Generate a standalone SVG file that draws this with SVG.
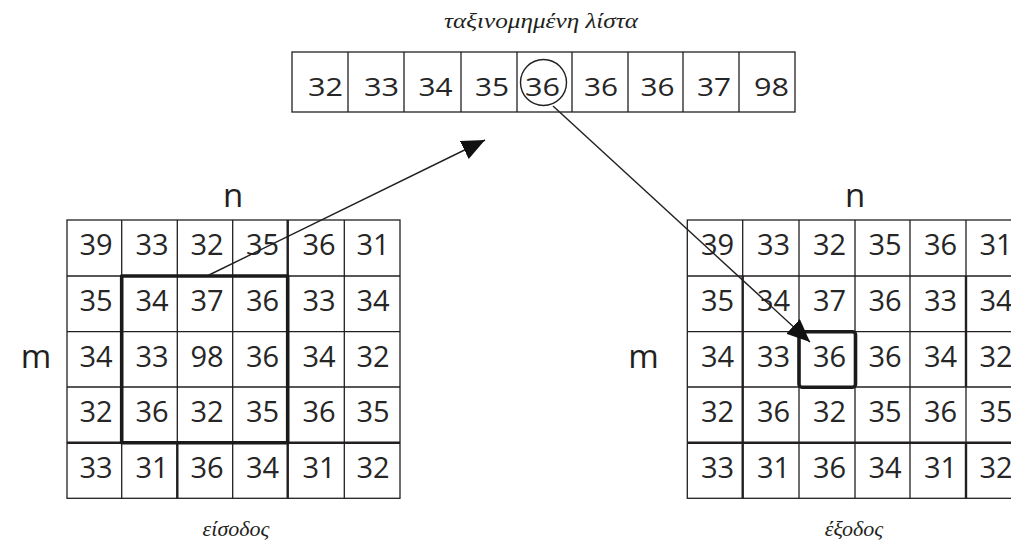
<svg xmlns="http://www.w3.org/2000/svg" width="1011" height="543" viewBox="0 0 1011 543">
<defs>
<style>
.cap{font-family:"Liberation Serif",serif;font-style:italic;font-size:22px;fill:#231f20;text-anchor:middle}
.lst{font-family:"Open Sans","DejaVu Sans",sans-serif;font-size:25px;fill:#262626;text-anchor:middle}
.gd{font-family:"Open Sans","DejaVu Sans",sans-serif;font-size:29px;fill:#262626;text-anchor:middle}
.lbl{font-family:"Open Sans","DejaVu Sans",sans-serif;font-size:33px;fill:#231f20;text-anchor:middle}
.thin{fill:none;stroke:#231f20;stroke-width:1.3}
.mid{fill:none;stroke:#231f20;stroke-width:2.4}
.bold{fill:none;stroke:#1a1a1a;stroke-width:3.6;stroke-linejoin:round}
.conn{fill:none;stroke:#231f20;stroke-width:1.4}
</style>
<marker id="ah" markerUnits="userSpaceOnUse" markerWidth="26" markerHeight="22" refX="23" refY="10" orient="auto" viewBox="0 0 26 22">
<path d="M0,0 L23,10 L0,20 z" fill="#111"/>
</marker>
</defs>
<rect width="1011" height="543" fill="#fff"/>

<g id="title">
<text class="cap" x="541" y="28" textLength="194" lengthAdjust="spacingAndGlyphs">ταξινομημένη λίστα</text>
</g>

<g id="sorted-list">
<rect class="thin" x="292" y="52" width="503" height="60"/>
<path class="thin" d="M348,52V112M404,52V112M461,52V112M517,52V112M572,52V112M628,52V112M683,52V112M739,52V112"/>
<text class="lst" y="96" x="325.5" textLength="35" lengthAdjust="spacingAndGlyphs">32</text>
<text class="lst" y="96" x="381.5" textLength="35" lengthAdjust="spacingAndGlyphs">33</text>
<text class="lst" y="96" x="435.5" textLength="34" lengthAdjust="spacingAndGlyphs">34</text>
<text class="lst" y="96" x="492" textLength="34" lengthAdjust="spacingAndGlyphs">35</text>
<text class="lst" y="96" x="542.5" textLength="35" lengthAdjust="spacingAndGlyphs">36</text>
<text class="lst" y="96" x="601" textLength="34" lengthAdjust="spacingAndGlyphs">36</text>
<text class="lst" y="96" x="657.5" textLength="34" lengthAdjust="spacingAndGlyphs">36</text>
<text class="lst" y="96" x="714" textLength="34" lengthAdjust="spacingAndGlyphs">37</text>
<text class="lst" y="96" x="771.5" textLength="35" lengthAdjust="spacingAndGlyphs">98</text>
<circle cx="543.5" cy="82.5" r="23" fill="none" stroke="#231f20" stroke-width="1.4"/>
</g>

<g id="input-grid">
<text class="lbl" x="233" y="207">n</text>
<text class="lbl" x="36" y="368">m</text>
<rect class="thin" x="67" y="220" width="333" height="278.3"/>
<path class="thin" d="M121.7,220V498.3M177.3,220V498.3M232.7,220V498.3M287.7,220V498.3M344.3,220V498.3M67,276H400M67,331.7H400M67,387H400"/>
<path class="mid" d="M67,442.7H400M177.3,442.7V498.3M287.7,220V276M287.7,442.7V498.3"/>
<g class="gd">
<text x="96" y="255">39</text><text x="152" y="255">33</text><text x="207" y="255">32</text><text x="262.5" y="255">35</text><text x="319" y="255">36</text><text x="373" y="255">31</text>
<text x="96" y="311">35</text><text x="152" y="311">34</text><text x="207" y="311">37</text><text x="262.5" y="311">36</text><text x="319" y="311">33</text><text x="373" y="311">34</text>
<text x="96" y="366.7">34</text><text x="152" y="366.7">33</text><text x="207" y="366.7">98</text><text x="262.5" y="366.7">36</text><text x="319" y="366.7">34</text><text x="373" y="366.7">32</text>
<text x="96" y="422">32</text><text x="152" y="422">36</text><text x="207" y="422">32</text><text x="262.5" y="422">35</text><text x="319" y="422">36</text><text x="373" y="422">35</text>
<text x="96" y="477.7">33</text><text x="152" y="477.7">31</text><text x="207" y="477.7">36</text><text x="262.5" y="477.7">34</text><text x="319" y="477.7">31</text><text x="373" y="477.7">32</text>
</g>
<rect class="bold" x="121.7" y="276" width="166" height="166.7"/>
<text class="cap" x="236" y="536">είσοδος</text>
</g>

<g id="output-grid">
<text class="lbl" x="855" y="207">n</text>
<text class="lbl" x="643.5" y="368">m</text>
<rect class="thin" x="687.3" y="220" width="334.2" height="278.3"/>
<path class="thin" d="M742.7,220V276M799,220V498.3M855,220V498.3M910,220V498.3M966,220V276M966,387V442.7M687.3,276H1021.5M687.3,331.7H1021.5M687.3,387H1021.5"/>
<path class="mid" d="M742.7,276V498.3M966,276V387M966,442.7V498.3M687.3,442.7H1021.5"/>
<g class="gd">
<text x="717.5" y="255">39</text><text x="773.5" y="255">33</text><text x="829.5" y="255">32</text><text x="885" y="255">35</text><text x="940.5" y="255">36</text><text x="996" y="255">31</text>
<text x="717.5" y="311">35</text><text x="773.5" y="311">34</text><text x="829.5" y="311">37</text><text x="885" y="311">36</text><text x="940.5" y="311">33</text><text x="996" y="311">34</text>
<text x="717.5" y="366.7">34</text><text x="773.5" y="366.7">33</text><text x="829.5" y="366.7">36</text><text x="885" y="366.7">36</text><text x="940.5" y="366.7">34</text><text x="996" y="366.7">32</text>
<text x="717.5" y="422">32</text><text x="773.5" y="422">36</text><text x="829.5" y="422">32</text><text x="885" y="422">35</text><text x="940.5" y="422">36</text><text x="996" y="422">35</text>
<text x="717.5" y="477.7">33</text><text x="773.5" y="477.7">31</text><text x="829.5" y="477.7">36</text><text x="885" y="477.7">34</text><text x="940.5" y="477.7">31</text><text x="996" y="477.7">32</text>
</g>
<rect class="bold" x="799" y="331.7" width="56.5" height="55.5" rx="3"/>
<text class="cap" x="854" y="536">έξοδος</text>
</g>

<g id="connectors">
<line class="conn" x1="207" y1="276" x2="485" y2="140" marker-end="url(#ah)"/>
<line class="conn" x1="553" y1="106" x2="810" y2="342" marker-end="url(#ah)"/>
</g>
</svg>
